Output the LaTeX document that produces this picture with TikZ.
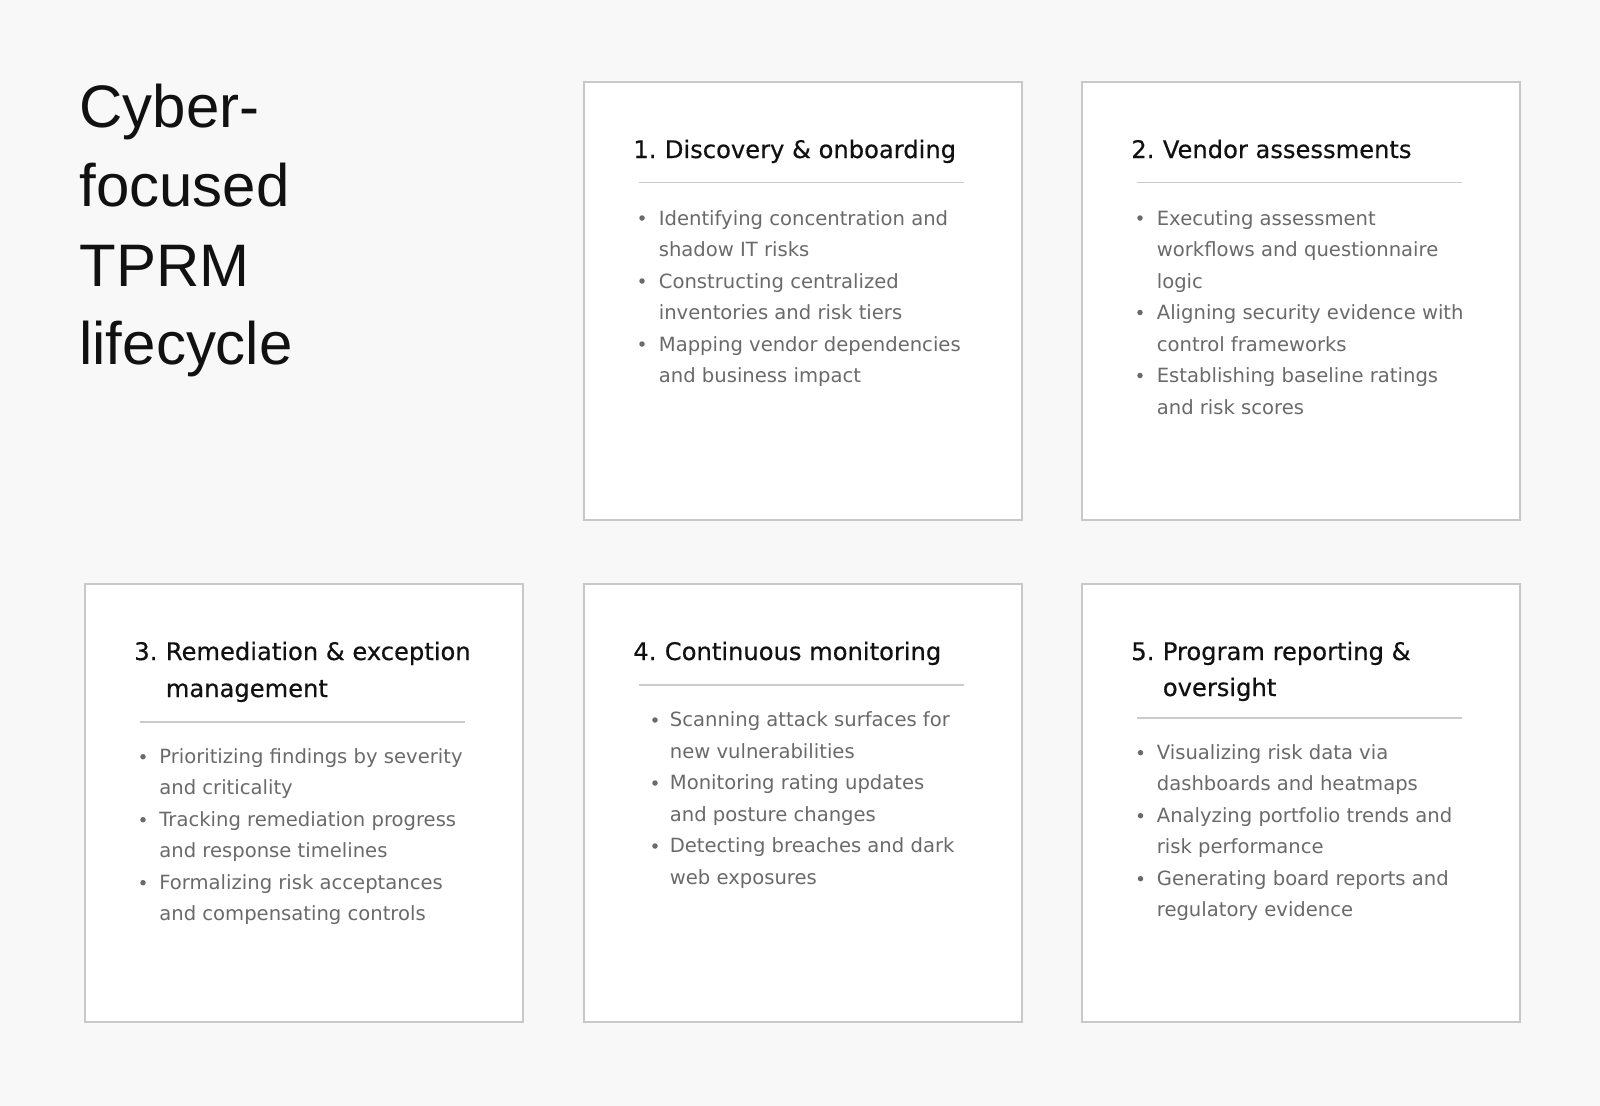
\documentclass[tikz,border=0pt]{standalone}
\usepackage{fontspec}
\setmainfont{DejaVu Sans}
\newfontfamily\headfont{Liberation Sans}
\newfontfamily\stepfont[FakeBold=0.5]{DejaVu Sans}
\usepackage{xcolor}
\usetikzlibrary{positioning}

\definecolor{pagebg}{HTML}{F8F8F8}
\definecolor{cardline}{HTML}{C8C8C8}
\definecolor{rulegray}{HTML}{CBCBCB}
\definecolor{ink}{HTML}{111111}
\definecolor{bodygray}{HTML}{6A6A6A}

\tikzset{
    card/.style={
        draw=cardline,
        line width=0.035cm,
        fill=white,
        anchor=north west,
        inner sep=0pt,
        minimum width=8.76cm,
        minimum height=8.76cm
    },
    stepnum/.style={
        anchor=base west,
        inner sep=0pt,
        text=ink,
        font=\stepfont\fontsize{13.77pt}{16pt}\selectfont
    },
    divider/.style={
        draw=rulegray,
        line width=0.035cm
    },
    itemtext/.style={
        anchor=base west,
        inner sep=0pt,
        text=bodygray,
        font=\fontsize{11.15pt}{13pt}\selectfont
    },
    itemdot/.style={
        fill=bodygray
    },
    headline/.style={
        anchor=base west,
        inner sep=0pt,
        text=ink,
        font=\headfont\fontsize{34.14pt}{40pt}\selectfont
    }
}

\begin{document}
\begin{tikzpicture}[x=0.02cm, y=-0.02cm]
                \fill[pagebg] (0,0) rectangle (1600,1106);
                \useasboundingbox (0,0) rectangle (1600,1106);

                % heading
                \node[headline] (head1) at (79,127) {Cyber-};
                \node[headline] (head2) at (79,206.5) {focused};
                \node[headline] (head3) at (79,286) {TPRM};
                \node[headline] (head4) at (79,364.5) {lifecycle};

                % 1. discovery
                \begin{scope}[shift={(583,81)}]
                    \node[card] (card1) at (0,0) {};
                    \node[stepnum] (num1) at (50,77) {1.};
                    \node[stepnum] (title1) at (81.5,77) {Discovery \& onboarding};
                    \draw[divider] (56,101.5) -- (381,101.5);
                    \foreach \ln [count=\i] in {Identifying concentration and,shadow IT risks,Constructing centralized,inventories and risk tiers,Mapping vendor dependencies,and business impact}
                        \node[itemtext] (item1-\i) at (75.5,{144+31.5*(\i-1)}) {\ln};
                    \foreach \i in {1,3,5}
                        \fill[itemdot] (59,{137+31.5*(\i-1)}) circle[radius=0.055cm];
                \end{scope}

                % 2. vendor assessments
                \begin{scope}[shift={(1081,81)}]
                    \node[card] (card2) at (0,0) {};
                    \node[stepnum] (num2) at (50,77) {2.};
                    \node[stepnum] (title2) at (81.5,77) {Vendor assessments};
                    \draw[divider] (56,101.5) -- (381,101.5);
                    \foreach \ln [count=\i] in {Executing assessment,workflows and questionnaire,logic,Aligning security evidence with,control frameworks,Establishing baseline ratings,and risk scores}
                        \node[itemtext] (item2-\i) at (75.5,{144+31.5*(\i-1)}) {\ln};
                    \foreach \i in {1,4,6}
                        \fill[itemdot] (59,{137+31.5*(\i-1)}) circle[radius=0.055cm];
                \end{scope}

                % 3. remediation
                \begin{scope}[shift={(84,583)}]
                    \node[card] (card3) at (0,0) {};
                    \node[stepnum] (num3) at (50,77) {3.};
                    \node[stepnum] (title3a) at (81.5,77) {Remediation \& exception};
                    \node[stepnum] (title3b) at (81.5,114) {management};
                    \draw[divider] (56,138.7) -- (381,138.7);
                    \foreach \ln [count=\i] in {Prioritizing findings by severity,and criticality,Tracking remediation progress,and response timelines,Formalizing risk acceptances,and compensating controls}
                        \node[itemtext] (item3-\i) at (75,{180.3+31.5*(\i-1)}) {\ln};
                    \foreach \i in {1,3,5}
                        \fill[itemdot] (59,{173.7+31.5*(\i-1)}) circle[radius=0.055cm];
                \end{scope}

                % 4. monitoring
                \begin{scope}[shift={(583,583)}]
                    \node[card] (card4) at (0,0) {};
                    \node[stepnum] (num4) at (50,77) {4.};
                    \node[stepnum] (title4) at (81.5,77) {Continuous monitoring};
                    \draw[divider] (56,102) -- (381,102);
                    \foreach \ln [count=\i] in {Scanning attack surfaces for,new vulnerabilities,Monitoring rating updates,and posture changes,Detecting breaches and dark,web exposures}
                        \node[itemtext] (item4-\i) at (86.5,{143.7+31.5*(\i-1)}) {\ln};
                    \foreach \i in {1,3,5}
                        \fill[itemdot] (72,{137+31.5*(\i-1)}) circle[radius=0.055cm];
                \end{scope}

                % 5. reporting
                \begin{scope}[shift={(1081,583)}]
                    \node[card] (card5) at (0,0) {};
                    \node[stepnum] (num5) at (50,77) {5.};
                    \node[stepnum] (title5a) at (81.5,77) {Program reporting \&};
                    \node[stepnum] (title5b) at (81.5,113) {oversight};
                    \draw[divider] (56,134.7) -- (381,134.7);
                    \foreach \ln [count=\i] in {Visualizing risk data via,dashboards and heatmaps,Analyzing portfolio trends and,risk performance,Generating board reports and,regulatory evidence}
                        \node[itemtext] (item5-\i) at (75.5,{176.3+31.5*(\i-1)}) {\ln};
                    \foreach \i in {1,3,5}
                        \fill[itemdot] (59.5,{169.7+31.5*(\i-1)}) circle[radius=0.055cm];
                \end{scope}

            \end{tikzpicture}
\end{document}
